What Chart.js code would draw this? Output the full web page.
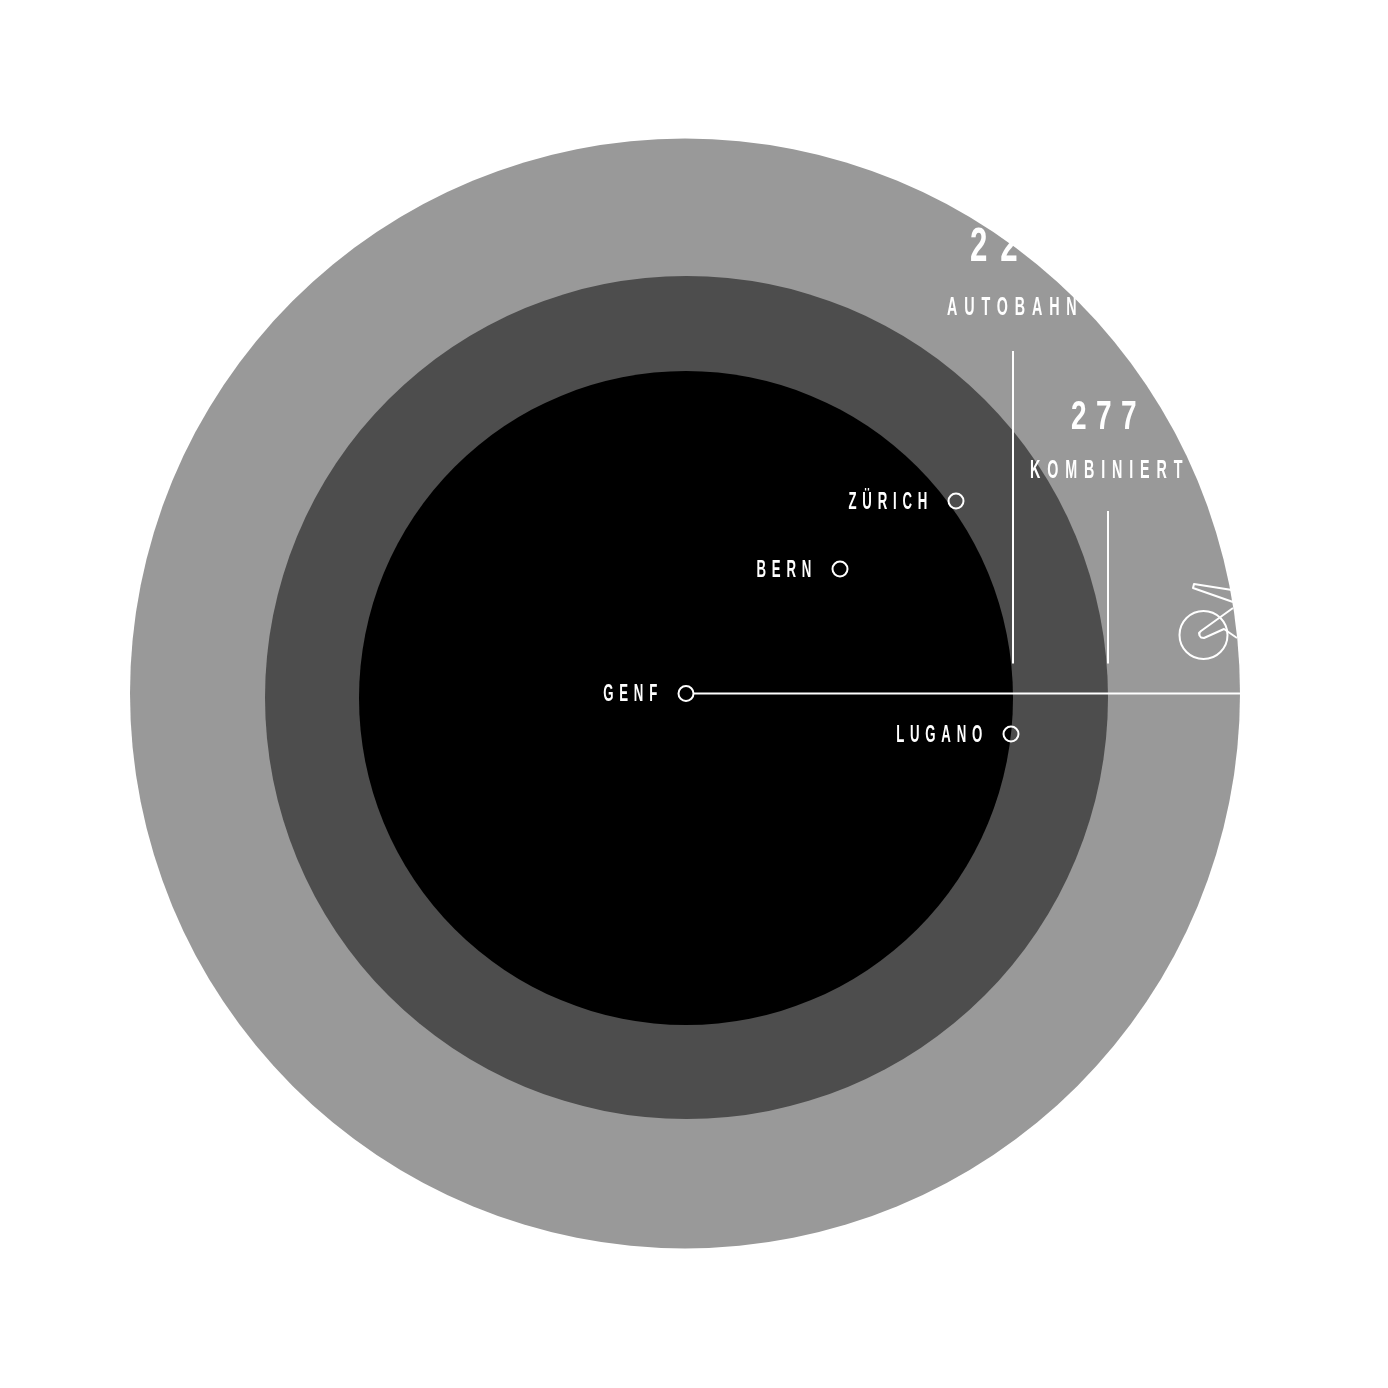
<!DOCTYPE html>
<html><head><meta charset="utf-8">
<style>html,body{margin:0;padding:0;background:#fff}canvas{display:block}</style>
<script src="https://cdn.jsdelivr.net/npm/chart.js@4"></script>
</head><body><canvas id="c" width="1388" height="1388"></canvas>
<script>
// Chart units: offset from Genf
const ringNames=['Velo','Kombiniert','Autobahn'];
const ringX=[-1,0.5,0];
const ringY=[-0.5,-4.5,-5];
const ringR=[555,421.5,327];
const ringColors=['#999999','#4d4d4d','#000000'];
const cityNames=['GENF','LUGANO','BERN','ZÜRICH'];
const cityX=[0,325,154,270];
const cityY=[-0.5,-41,124,192];
const routeX=[8,560];
const routeY=[-0.5,-0.5];
const autobahnLineX=[327,327];
const autobahnLineY=[29.5,342];
const kombiLineX=[422,422];
const kombiLineY=[29.5,182];
const wheelX=[517.5];
const wheelY=[58];
const wheelR=[24];
const saddleX=[546,508,507,547];
const saddleY=[103,109,105,91];
const forkX=[547,515,513,513.5,515,518,538,551];
const forkY=[85,62,60,57.5,55.5,55,64,55];
const numberLabels=['22','277'];
const numberX=[284,385];
const numberY=[445,275];
const captionLabels=['AUTOBAHN','KOMBINIERT'];
const captionX=[261,344];
const captionY=[385.5,222];

const radiusFromScale=(c,v)=>Math.abs(c.chart.scales.x.getPixelForValue(v)-c.chart.scales.x.getPixelForValue(0));
const pts=(xs,ys)=>xs.map((x,i)=>({x,y:ys[i]}));
const ds=[];
ringNames.forEach((n,i)=>ds.push({label:n,data:[{x:ringX[i],y:ringY[i]}],order:100-i,
  pointRadius:c=>radiusFromScale(c,ringR[i]),pointHoverRadius:c=>radiusFromScale(c,ringR[i]),
  backgroundColor:ringColors[i],borderWidth:0,pointBorderWidth:0,clip:false}));
const line=(label,xs,ys)=>({label,data:pts(xs,ys),showLine:true,order:10,pointRadius:0,borderColor:'#fff',borderWidth:2,borderJoinStyle:'round',clip:false});
ds.push(line('route',routeX,routeY),line('autobahn',autobahnLineX,autobahnLineY),line('kombi',kombiLineX,kombiLineY),
  line('saddle',saddleX,saddleY),line('fork',forkX,forkY));
ds.push({label:'wheel',data:pts(wheelX,wheelY),order:9,pointRadius:c=>radiusFromScale(c,wheelR[0]),backgroundColor:'transparent',pointBorderColor:'#fff',pointBorderWidth:2,clip:false});
ds.push({label:'cities',data:pts(cityX,cityY),order:1,pointRadius:7.5,backgroundColor:'transparent',pointBackgroundColor:'transparent',pointBorderColor:'#fff',pointBorderWidth:2,clip:false});

function spaced(ctx,text,px,py,font,sx,spacing,align){
  ctx.save();
  ctx.font=font;ctx.fillStyle='#fff';ctx.textBaseline='middle';ctx.textAlign='left';
  ctx.letterSpacing=spacing+'px';
  const w=ctx.measureText(text).width*sx;
  const left=align==='right'?px-w:align==='center'?px-w/2:px;
  ctx.translate(left,py);ctx.scale(sx,1);
  ctx.fillText(text,0,0);
  ctx.restore();
}
const textPlugin={id:'text',afterDatasetsDraw(chart){
  const {ctx,scales:{x,y}}=chart;
  const fam='"Liberation Sans"';
  cityNames.forEach((n,i)=>spaced(ctx,n,x.getPixelForValue(cityX[i])-23,y.getPixelForValue(cityY[i])+1,'bold 24px '+fam,0.55,10.5,'right'));
  captionLabels.forEach((n,i)=>spaced(ctx,n,x.getPixelForValue(captionX[i]),y.getPixelForValue(captionY[i]),'bold 26px '+fam,0.55,12.5,'left'));
  spaced(ctx,numberLabels[0],x.getPixelForValue(numberX[0]),y.getPixelForValue(numberY[0]),'bold 48px '+fam,0.65,20,'left');
  spaced(ctx,numberLabels[1],x.getPixelForValue(numberX[1]),y.getPixelForValue(numberY[1]),'bold 40px '+fam,0.7,13.5,'left');
}};
new Chart(document.getElementById('c'),{type:'scatter',data:{datasets:ds},plugins:[textPlugin],options:{
  responsive:false,animation:false,events:[],
  layout:{padding:0,autoPadding:false},
  plugins:{legend:{display:false},tooltip:{enabled:false}},
  scales:{x:{type:'linear',display:false,min:-686,max:702},y:{type:'linear',display:false,min:-695,max:693}}
}});
</script></body></html>
